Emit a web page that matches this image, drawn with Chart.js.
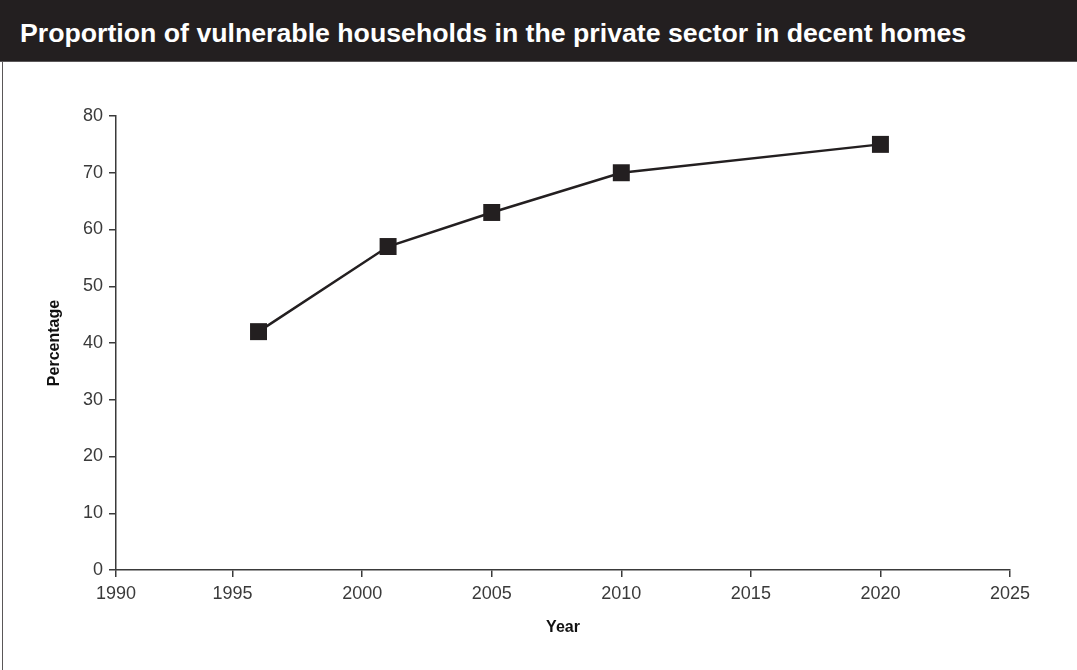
<!DOCTYPE html>
<html>
<head>
<meta charset="utf-8">
<script src="https://cdn.jsdelivr.net/npm/chart.js@4.4.1/dist/chart.umd.min.js"></script>
<style>
  html, body { margin: 0; padding: 0; background: #fff; }
  body { width: 1077px; height: 670px; position: relative; overflow: hidden; font-family: "Liberation Sans", Arial, sans-serif; }
  #titlebar { position: absolute; left: 0; top: 0; width: 1077px; height: 61px; background: #231f20; border-bottom: 1px solid #5a5758; }
  #titlebar span { position: absolute; left: 20px; top: 16px; color: #fff; font-weight: bold; font-size: 26.7px; line-height: 34px; white-space: nowrap; }
  #leftborder { position: absolute; left: 2px; top: 62px; width: 1px; height: 608px; background: #5a5758; }
  #wrap { position: absolute; left: 3px; top: 62px; width: 1074px; height: 608px; }
</style>
</head>
<body>
<div id="titlebar"><span id="ttl">Proportion of vulnerable households in the private sector in decent homes</span></div>
<div id="leftborder"></div>
<div id="wrap"><canvas id="c"></canvas></div>
<script>
const titleText = "Proportion of vulnerable households in the private sector in decent homes";
const years = [1996, 2001, 2005, 2010, 2020];
const percentages = [42, 57, 63, 70, 75];
const xTickValues = [1990, 1995, 2000, 2005, 2010, 2015, 2020, 2025];
const yTickValues = [0, 10, 20, 30, 40, 50, 60, 70, 80];
const xTitle = "Year";
const yTitle = "Percentage";

document.getElementById('ttl').textContent = titleText;

const ink = '#231f20';
const axisInk = '#3a3a3a';
const xMin = 1990.5; // the printed axis starts slightly after 1990 (first tick sits on the y axis)

new Chart(document.getElementById('c'), {
  type: 'line',
  data: {
    datasets: [{
      data: years.map((y, i) => ({ x: y, y: percentages[i] })),
      borderColor: ink,
      backgroundColor: ink,
      borderWidth: 2.5,
      pointStyle: 'rect',
      pointRadius: 12,
      pointHoverRadius: 12,
      pointBorderWidth: 0,
      pointBackgroundColor: ink,
      tension: 0
    }]
  },
  options: {
    responsive: true,
    maintainAspectRatio: false,
    animation: false,
    layout: { padding: { left: 0, right: 67, top: 54, bottom: 0 } },
    plugins: { legend: { display: false }, tooltip: { enabled: false } },
    scales: {
      x: {
        type: 'linear',
        min: xMin,
        max: xTickValues[xTickValues.length - 1],
        afterBuildTicks: (s) => { s.ticks = xTickValues.map(v => ({ value: Math.max(v, xMin) })); },
        afterFit: (s) => { s.height = 100; },
        grid: { drawOnChartArea: false, drawTicks: true, tickLength: 7, color: axisInk, lineWidth: 1.5 },
        border: { display: true, color: axisInk, width: 1.5 },
        ticks: {
          padding: 6,
          color: '#3a3a3a',
          font: { family: '"Liberation Sans", Arial, sans-serif', size: 18 },
          maxRotation: 0,
          autoSkip: false,
          callback: (v, i) => String(xTickValues[i])
        },
        title: {
          display: true, text: xTitle, color: '#111',
          font: { family: '"Liberation Sans", Arial, sans-serif', size: 16, weight: 'bold' },
          padding: { top: 0, bottom: 33 }
        }
      },
      y: {
        min: yTickValues[0],
        max: yTickValues[yTickValues.length - 1],
        afterBuildTicks: (s) => { s.ticks = yTickValues.map(v => ({ value: v })); },
        afterFit: (s) => { s.width = 113; },
        grid: { drawOnChartArea: false, drawTicks: true, tickLength: 7, color: axisInk, lineWidth: 1.5 },
        border: { display: true, color: axisInk, width: 1.5 },
        ticks: {
          padding: 6,
          color: '#3a3a3a',
          font: { family: '"Liberation Sans", Arial, sans-serif', size: 18 },
          callback: (v) => String(v)
        },
        title: {
          display: true, text: yTitle, color: '#111',
          font: { family: '"Liberation Sans", Arial, sans-serif', size: 16, weight: 'bold' },
          padding: { top: 42, bottom: 0 }
        }
      }
    }
  }
});
</script>
</body>
</html>
